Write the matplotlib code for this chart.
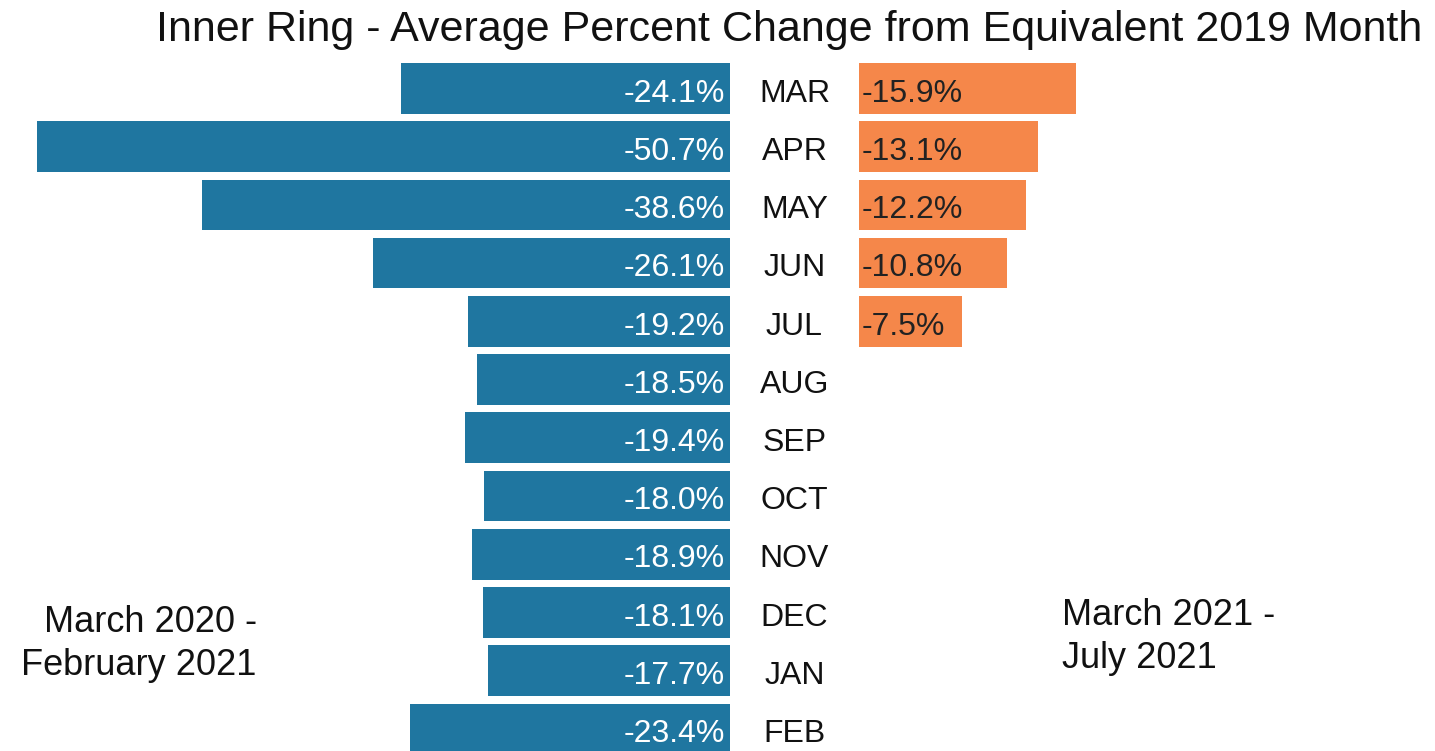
import matplotlib.pyplot as plt

# Inner ring, average percent change vs the same month of 2019
months = ["MAR", "APR", "MAY", "JUN", "JUL", "AUG",
          "SEP", "OCT", "NOV", "DEC", "JAN", "FEB"]
first_year = [-24.1, -50.7, -38.6, -26.1, -19.2, -18.5,
              -19.4, -18.0, -18.9, -18.1, -17.7, -23.4]
second_year = [-15.9, -13.1, -12.2, -10.8, -7.5]

BLUE = "#1f76a0"
ORANGE = "#f5874a"
GAP = 9.44      # space between the two bar groups, in percent units
FONT = ["Liberation Sans", "DejaVu Sans"]

fig = plt.figure(figsize=(14.35, 7.51), dpi=100)
ax = fig.add_axes([0, 0, 1, 1])
ax.set_xlim(-53.4, 51.57)
ax.set_ylim(11.38, -1.52)
ax.axis("off")

rows = list(range(len(months)))

ax.barh(rows, [-v for v in first_year], left=first_year, height=0.87,
        color=BLUE)
ax.barh(rows[:len(second_year)], [-v for v in second_year], left=GAP,
        height=0.87, color=ORANGE)

for i, v in enumerate(first_year):
    ax.text(-0.4, i + 0.09, f"{v:.1f}%", ha="right", va="center",
            color="white", fontsize=23, family=FONT)
    ax.text(GAP / 2, i + 0.09, months[i], ha="center", va="center",
            color="#111111", fontsize=23, family=FONT)

for i, v in enumerate(second_year):
    ax.text(GAP + 0.2, i + 0.09, f"{v:.1f}%", ha="left", va="center",
            color="#222222", fontsize=23, family=FONT)

fig.text(0.179, 0.143, "March 2020 -\nFebruary 2021", ha="right",
         va="center", fontsize=26, family=FONT, linespacing=1.3,
         color="#111111")
fig.text(0.74, 0.152, "March 2021 -\nJuly 2021", ha="left",
         va="center", fontsize=26, family=FONT, linespacing=1.3,
         color="#111111")

fig.text(0.55, 0.96, "Inner Ring - Average Percent Change from Equivalent 2019 Month",
         ha="center", va="center", fontsize=31, family=FONT,
         color="#111111")

fig.savefig("out.png", dpi=100)
